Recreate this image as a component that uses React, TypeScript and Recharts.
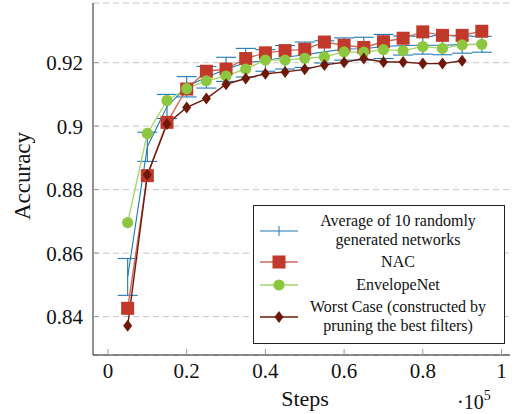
import React from 'react'
import { ComposedChart, Line, XAxis, YAxis, CartesianGrid, ErrorBar, Legend } from 'recharts'

const steps = [0.05, 0.1, 0.15, 0.2, 0.25, 0.3, 0.35, 0.4, 0.45, 0.5, 0.55, 0.6, 0.65, 0.7, 0.75, 0.8, 0.85, 0.9, 0.95]
const avgRandom = [0.8525, 0.8935, 0.9062, 0.9124, 0.9154, 0.9179, 0.92, 0.9207, 0.9217, 0.9225, 0.9234, 0.9243, 0.9244, 0.9251, 0.9254, 0.9255, 0.9255, 0.9257, 0.9258]
const avgErr = [0.0058, 0.0046, 0.0038, 0.0032, 0.0034, 0.0038, 0.0045, 0.0034, 0.0037, 0.004, 0.0035, 0.0035, 0.0036, 0.0038, 0.003, 0.0028, 0.003, 0.0027, 0.0025]
const nac = [0.8426, 0.8844, 0.9012, 0.9117, 0.9173, 0.918, 0.9213, 0.9231, 0.9238, 0.9242, 0.9265, 0.9255, 0.9248, 0.9266, 0.9277, 0.9297, 0.9286, 0.9286, 0.9299]
const envelopeNet = [0.8696, 0.8977, 0.9081, 0.9118, 0.9143, 0.9158, 0.918, 0.9208, 0.9208, 0.9214, 0.9218, 0.9234, 0.9233, 0.9241, 0.9238, 0.9251, 0.9245, 0.9256, 0.9258]
const worstCase = [0.8371, 0.8847, 0.9007, 0.9059, 0.9087, 0.9132, 0.915, 0.9165, 0.9171, 0.9179, 0.9193, 0.9201, 0.9213, 0.9202, 0.9202, 0.9197, 0.9197, 0.9206, null]

const xTicks = [0, 0.2, 0.4, 0.6, 0.8, 1]
const yTicks = [0.84, 0.86, 0.88, 0.9, 0.92]

const data = steps.map((s, i) => ({
  step: s,
  avg: avgRandom[i],
  avgErr: avgErr[i],
  nac: nac[i],
  env: envelopeNet[i],
  worst: worstCase[i],
}))

const BLUE = '#2079b4'
const RED = '#c0392b'
const RED_LINE = '#d0685c'
const GREEN = '#8dc63f'
const GREEN_LINE = '#a6d66d'
const DARK = '#6e1808'
const FONT = '"Liberation Serif", "Times New Roman", serif'

const xDomain = [-0.0381, 1.0216]
const yDomain = [0.8279, 0.9388]

const Square = (props: any) => {
  const { cx, cy, index } = props
  if (cy == null) return <g key={index} />
  return <rect key={index} x={cx - 6.5} y={cy - 6.5} width={13} height={13} fill={RED} />
}
const Circle = (props: any) => {
  const { cx, cy, index } = props
  if (cy == null) return <g key={index} />
  return <circle key={index} cx={cx} cy={cy} r={5.6} fill={GREEN} />
}
const Diamond = (props: any) => {
  const { cx, cy, index } = props
  if (cy == null) return <g key={index} />
  return <path key={index} d={`M${cx},${cy - 6}L${cx + 4.5},${cy}L${cx},${cy + 6}L${cx - 4.5},${cy}Z`} fill={DARK} />
}

const legendRows = [
  { key: 'avg', lines: ['Average of 10 randomly', 'generated networks'] },
  { key: 'nac', lines: ['NAC'] },
  { key: 'env', lines: ['EnvelopeNet'] },
  { key: 'worst', lines: ['Worst Case (constructed by', 'pruning the best filters)'] },
]

function LegendIcon({ k }: { k: string }) {
  return (
    <svg width={38} height={14} style={{ display: 'block' }}>
      {k === 'avg' && (
        <g>
          <line x1={0} y1={7} x2={38} y2={7} stroke={BLUE} strokeWidth={1} />
          <line x1={19} y1={2} x2={19} y2={12} stroke={BLUE} strokeWidth={1} />
        </g>
      )}
      {k === 'nac' && (
        <g>
          <line x1={0} y1={7} x2={38} y2={7} stroke={RED_LINE} strokeWidth={1.5} />
          <rect x={12.5} y={0.5} width={13} height={13} fill={RED} />
        </g>
      )}
      {k === 'env' && (
        <g>
          <line x1={0} y1={7} x2={38} y2={7} stroke={GREEN_LINE} strokeWidth={1.5} />
          <circle cx={19} cy={7} r={5.6} fill={GREEN} />
        </g>
      )}
      {k === 'worst' && (
        <g>
          <line x1={0} y1={7} x2={38} y2={7} stroke={DARK} strokeWidth={1.5} />
          <path d="M19,1L23.5,7L19,13L14.5,7Z" fill={DARK} />
        </g>
      )}
    </svg>
  )
}

function renderLegend() {
  return (
    <div
      style={{
        width: 252,
        height: 139,
        boxSizing: 'border-box',
        border: '1px solid #222',
        background: '#fff',
        fontFamily: FONT,
        fontSize: 16,
        lineHeight: '18.5px',
        color: '#111',
        padding: '6px 6px 0 6px',
      }}
    >
      {legendRows.map((r) => (
        <div key={r.key} style={{ display: 'flex', alignItems: 'center', marginBottom: 4 }}>
          <LegendIcon k={r.key} />
          <div style={{ flex: 1, textAlign: 'center', whiteSpace: 'nowrap' }}>
            {r.lines.map((l) => (
              <div key={l}>{l}</div>
            ))}
          </div>
        </div>
      ))}
    </div>
  )
}

export default function App() {
  return (
    <div style={{ position: 'absolute', left: 0, top: 0, width: 515, height: 414, background: '#fff' }}>
      <ComposedChart width={515} height={414} data={data} margin={{ top: 3, right: 5, left: 33, bottom: 29 }}>
        <CartesianGrid horizontal vertical={false} stroke="#c4c4c4" strokeDasharray="6 4" />
        <XAxis
          xAxisId={0}
          dataKey="step"
          type="number"
          domain={xDomain}
          ticks={xTicks}
          allowDataOverflow
          height={30}
          stroke="#222"
          tickSize={-6}
          tickMargin={14}
          tickLine={{ stroke: '#999' }}
          tick={{ fill: '#111', fontSize: 21, fontFamily: FONT }}
          label={{
            content: () => (
              <g>
                <text x={305} y={406} textAnchor="middle" fontSize={22} fontFamily={FONT} fill="#111">
                  Steps
                </text>
                <text x={457} y={409} fontSize={20} fontFamily={FONT} fill="#111">
                  ·10<tspan dy={-9} fontSize={14}>5</tspan>
                </text>
              </g>
            ),
          }}
        />
        <XAxis
          xAxisId="top"
          orientation="top"
          dataKey="step"
          type="number"
          domain={xDomain}
          ticks={xTicks}
          allowDataOverflow
          height={0}
          stroke="#222"
          tickSize={-6}
          tickLine={{ stroke: '#999' }}
          tick={false}
        />
        <YAxis
          yAxisId={0}
          type="number"
          domain={yDomain}
          ticks={yTicks}
          allowDataOverflow
          width={60}
          stroke="#222"
          tickSize={-6}
          tickMargin={16}
          tickLine={{ stroke: '#999' }}
          tick={{ fill: '#111', fontSize: 21, fontFamily: FONT }}
          label={{
            content: () => (
              <text
                x={22}
                y={176}
                transform="rotate(-90, 22, 176)"
                textAnchor="middle"
                dominantBaseline="central"
                fontSize={23}
                fontFamily={FONT}
                fill="#111"
              >
                Accuracy
              </text>
            ),
          }}
        />
        <YAxis
          yAxisId="right"
          orientation="right"
          type="number"
          domain={yDomain}
          ticks={yTicks}
          allowDataOverflow
          width={0}
          stroke="#222"
          tickSize={-6}
          tickLine={{ stroke: '#999' }}
          tick={false}
        />
        <Legend layout="vertical" align="center" verticalAlign="middle" content={renderLegend} wrapperStyle={{ left: 253, top: 205, width: 252, height: 139 }} />
        <Line dataKey="avg" name="Average of 10 randomly generated networks" stroke={BLUE} strokeWidth={1.1} dot={false} activeDot={false} isAnimationActive={false}>
          <ErrorBar dataKey="avgErr" direction="y" width={10} stroke={BLUE} strokeWidth={1.1} isAnimationActive={false} />
        </Line>
        <Line dataKey="nac" name="NAC" stroke={RED_LINE} strokeWidth={1.4} dot={Square} activeDot={false} isAnimationActive={false} />
        <Line dataKey="env" name="EnvelopeNet" stroke={GREEN_LINE} strokeWidth={1.4} dot={Circle} activeDot={false} isAnimationActive={false} />
        <Line dataKey="worst" name="Worst Case" stroke={DARK} strokeWidth={1.4} dot={Diamond} activeDot={false} isAnimationActive={false} />
      </ComposedChart>
    </div>
  )
}
